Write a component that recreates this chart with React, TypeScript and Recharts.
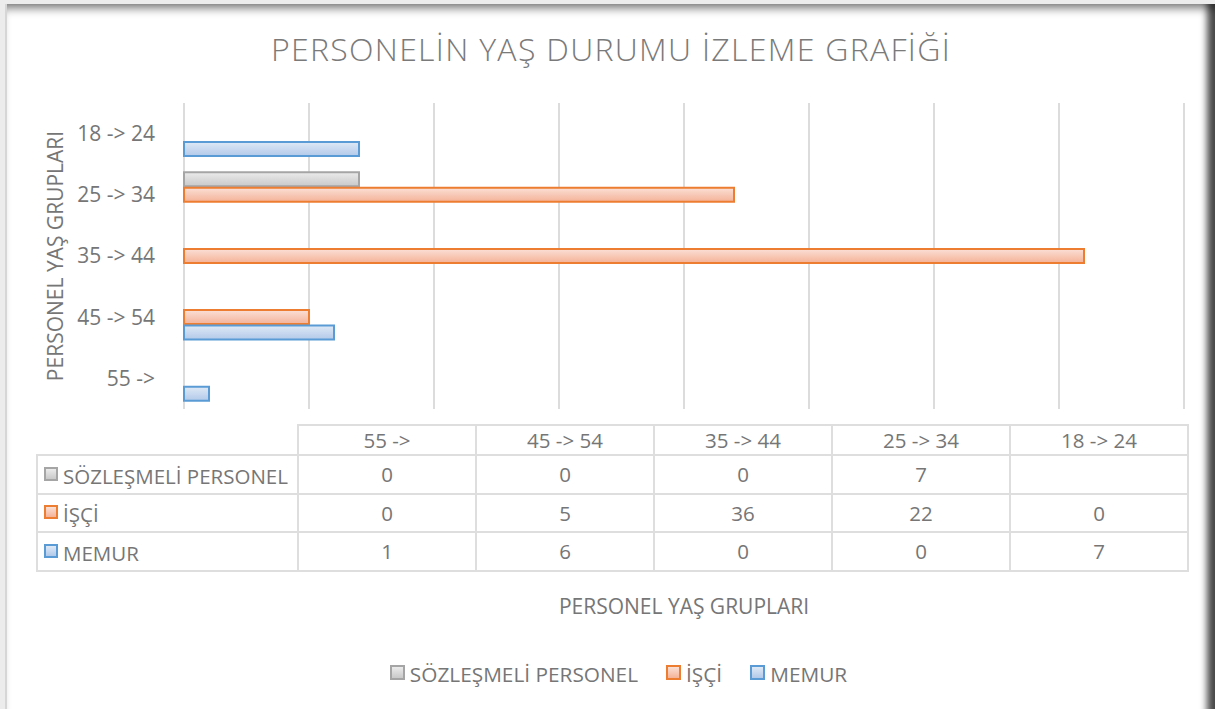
import { BarChart, Bar, XAxis, YAxis, CartesianGrid } from 'recharts'

// age groups, top to bottom as drawn in the chart
const categories = ['18 -> 24', '25 -> 34', '35 -> 44', '45 -> 54', '55 ->']
const sozlesmeli: (number | null)[] = [null, 7, 0, 0, 0]
const isci: (number | null)[] = [0, 22, 36, 5, 0]
const memur: (number | null)[] = [7, 0, 0, 6, 1]
const xTicks = [0, 5, 10, 15, 20, 25, 30, 35, 40]

const TEXT = '#767676'
const FONT = '"Open Sans", "Noto Sans", sans-serif'

const SERIES = [
  { key: 'sozlesmeli', name: 'SÖZLEŞMELİ PERSONEL', values: sozlesmeli, stroke: '#a5a5a5', top: '#ebebeb', bottom: '#c9c9c9' },
  { key: 'isci', name: 'İŞÇİ', values: isci, stroke: '#ed7d31', top: '#fbe0d6', bottom: '#f4b298' },
  { key: 'memur', name: 'MEMUR', values: memur, stroke: '#5b9bd5', top: '#dfe9f6', bottom: '#b2c9e9' },
]

const data = categories.map((cat, i) => {
  const row: Record<string, string | number | null> = { cat }
  SERIES.forEach((s) => (row[s.key] = s.values[i]))
  return row
})

// the data table reads the groups oldest first
const tableOrder = categories.map((_, i) => i).reverse()

function Key({ s, size = 10 }: { s: (typeof SERIES)[number]; size?: number }) {
  return (
    <span
      style={{
        display: 'inline-block',
        width: size,
        height: size,
        border: `2px solid ${s.stroke}`,
        background: `linear-gradient(${s.top}, ${s.bottom})`,
        marginRight: 5,
        verticalAlign: 'middle',
        position: 'relative',
        top: -2,
      }}
    />
  )
}

function DataTable() {
  const border = '2px solid #dedede'
  const cell: React.CSSProperties = { border, textAlign: 'center', padding: 0 }
  return (
    <table
      style={{
        position: 'absolute',
        left: 36,
        top: 424,
        width: 1151,
        tableLayout: 'fixed',
        borderCollapse: 'collapse',
        fontSize: 20.5,
        color: TEXT,
        fontFamily: FONT,
      }}
    >
      <colgroup>
        <col style={{ width: 261 }} />
        {tableOrder.map((i) => (
          <col key={i} style={{ width: 178 }} />
        ))}
      </colgroup>
      <tbody>
        <tr style={{ height: 30 }}>
          <td style={{ border: 'none', padding: 0 }} />
          {tableOrder.map((i) => (
            <td key={i} style={cell}>{categories[i]}</td>
          ))}
        </tr>
        {SERIES.map((s) => (
          <tr key={s.key} style={{ height: 38.5 }}>
            <td style={{ border, padding: '0 0 0 6px', whiteSpace: 'nowrap' }}>
              <Key s={s} />
              <span style={{ verticalAlign: 'middle' }}>{s.name}</span>
            </td>
            {tableOrder.map((i) => (
              <td key={i} style={cell}>{s.values[i] ?? ''}</td>
            ))}
          </tr>
        ))}
      </tbody>
    </table>
  )
}

function ChartLegend() {
  return (
    <div
      style={{
        position: 'absolute',
        left: 25,
        top: 658,
        width: 1215,
        display: 'flex',
        justifyContent: 'center',
        fontSize: 20.8,
        color: TEXT,
        lineHeight: '28px',
      }}
    >
      {SERIES.map((s) => (
        <span key={s.key} style={{ marginRight: 28, whiteSpace: 'nowrap' }}>
          <Key s={s} size={11} />
          <span style={{ verticalAlign: 'middle' }}>{s.name}</span>
        </span>
      ))}
    </div>
  )
}

export default function App() {
  return (
    <div style={{ position: 'absolute', left: 0, top: 0, width: 1215, height: 709, overflow: 'hidden', background: '#ececec', fontFamily: FONT }}>
      <div
        style={{
          position: 'absolute',
          left: 5,
          top: 4,
          width: 1208,
          height: 730,
          background: '#fff',
          borderLeft: '2px solid #d6d6d6',
          boxShadow: 'inset 0 10px 8px -5px rgba(0,0,0,0.45), inset -12px 0 7px -4px rgba(0,0,0,0.7)',
        }}
      />
      <div style={{ position: 'absolute', left: 0, top: 0, width: 1215, height: 709 }}>
        <BarChart
          width={1215}
          height={709}
          data={data}
          layout="vertical"
          margin={{ top: 103, right: 31, bottom: 300, left: 0 }}
          barSize={14}
          barGap={1.5}
        >
          <defs>
            {SERIES.map((s) => (
              <linearGradient key={s.key} id={`grad-${s.key}`} x1="0" y1="0" x2="0" y2="1">
                <stop offset="0%" stopColor={s.top} />
                <stop offset="100%" stopColor={s.bottom} />
              </linearGradient>
            ))}
          </defs>
          <CartesianGrid horizontal={false} stroke="#dcdcdc" strokeWidth={2} />
          <XAxis
            type="number"
            domain={[0, 40]}
            ticks={xTicks}
            interval={0}
            height={0}
            tick={() => <g />}
            axisLine={false}
            tickLine={false}
          />
          <YAxis
            type="category"
            dataKey="cat"
            width={184}
            axisLine={false}
            tickLine={false}
            tickSize={0}
            tickMargin={29}
            tick={{ fill: TEXT, fontSize: 21 }}
          />
          {SERIES.map((s) => (
            <Bar
              key={s.key}
              dataKey={s.key}
              name={s.name}
              fill={`url(#grad-${s.key})`}
              stroke={s.stroke}
              strokeWidth={2}
              isAnimationActive={false}
            />
          ))}
        </BarChart>
      </div>
      <div
        style={{
          position: 'absolute',
          left: 0,
          top: 33,
          width: 1222,
          height: 32,
          lineHeight: '32px',
          textAlign: 'center',
          fontSize: 32,
          fontWeight: 300,
          letterSpacing: 1.3,
          color: '#7a7a7a',
        }}
      >
        PERSONELİN YAŞ DURUMU İZLEME GRAFİĞİ
      </div>
      <DataTable />
      <div style={{ position: 'absolute', left: 484, top: 592, width: 400, height: 28, lineHeight: '28px', textAlign: 'center', fontSize: 21, color: TEXT }}>
        PERSONEL YAŞ GRUPLARI
      </div>
      <div
        style={{
          position: 'absolute',
          left: 55 - 200,
          top: 256 - 14,
          width: 400,
          height: 28,
          lineHeight: '28px',
          textAlign: 'center',
          fontSize: 21,
          color: TEXT,
          transform: 'rotate(-90deg)',
        }}
      >
        PERSONEL YAŞ GRUPLARI
      </div>
      <ChartLegend />
    </div>
  )
}
